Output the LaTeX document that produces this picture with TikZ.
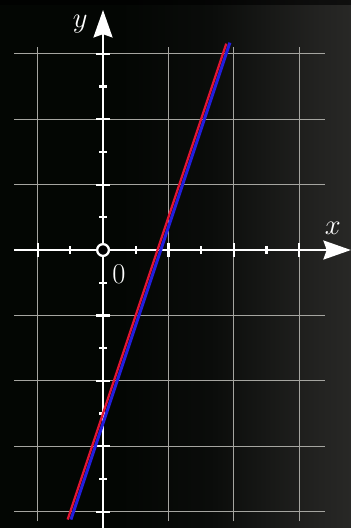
\documentclass[tikz,border=0pt]{standalone}
\usepackage{tikz}
\usetikzlibrary{arrows.meta}
\definecolor{bgdark}{RGB}{3,6,3}
\definecolor{bgmid}{RGB}{10,12,10}
\definecolor{bglight}{RGB}{40,40,38}
\definecolor{gridgray}{RGB}{165,165,160}
\definecolor{linered}{RGB}{225,20,50}
\definecolor{lineblue}{RGB}{35,30,220}
% the path is mapped onto 25bp--75bp of the shading
\pgfdeclarehorizontalshading{bgfade}{100bp}{color(0bp)=(bgdark); color(42bp)=(bgdark); color(55bp)=(bgmid); color(70bp)=(bglight!85!black); color(75bp)=(bglight); color(100bp)=(bglight)}

\begin{document}
\begin{tikzpicture}[
  axis/.style={white, line width=2.1pt, -{Stealth[length=0.84cm, width=0.58cm, inset=0.1cm]}},
  gridline/.style={gridgray, line width=0.8pt},
  tickmark/.style={white, line width=1.9pt},
  axislabel/.style={white, font=\fontsize{25}{29}\selectfont}
]
  \useasboundingbox (-3.15,-8.5) rectangle (7.58,7.645);

  % background
  \shade[shading=bgfade] (-3.15,-8.5) rectangle (7.58,7.645);
  \fill[black, opacity=0.6] (-3.15,7.495) rectangle (7.58,7.645);

  % grid
  \foreach \x in {-2,2,4,6}
    \draw[gridline] (\x,-8.3) -- (\x,6.2);
  \foreach \y in {-8,-6,-4,-2,2,4,6}
    \draw[gridline] (-2.72,\y) -- (6.8,\y);

  % axes
  \coordinate (xfrom) at (-2.72,0);
  \coordinate (xto) at (7.58,0);
  \coordinate (yfrom) at (0,-8.5);
  \coordinate (yto) at (0,7.34);
  \draw[axis] (xfrom) -- (xto);
  \draw[axis] (yfrom) -- (yto);

  % ticks
  \foreach \x in {-2,2,4,6}
    \draw[tickmark] (\x,-0.2) -- (\x,0.2);
  \foreach \x in {-1,1,3,5}
    \draw[tickmark] (\x,-0.11) -- (\x,0.11);
  \foreach \y in {-8,-6,-4,-2,2,4,6}
    \draw[tickmark] (-0.2,\y) -- (0.2,\y);
  \foreach \y in {-7,-5,-3,-1,1,3,5}
    \draw[tickmark] (-0.11,\y) -- (0.11,\y);

  % the two lines
  \coordinate (bluelow) at (-0.98,-8.24);
  \coordinate (bluehigh) at (3.88,6.34);
  \coordinate (redlow) at (-1.08,-8.24);
  \coordinate (redhigh) at (3.77,6.31);
  \draw[lineblue, line width=2.6pt] (bluelow) -- (bluehigh);
  \draw[linered, line width=2pt] (redlow) -- (redhigh);

  % origin
  \node[circle, draw=white, fill=black, line width=2pt, minimum size=0.36cm, inner sep=0pt] (origin) at (0,0) {};

  % labels
  \node[axislabel] (ylabel) at (-0.70,6.91) {$y$};
  \node[axislabel] (xlabel) at (7.03,0.67) {$x$};
  \node[axislabel] (zero) at (0.49,-0.73) {$0$};
\end{tikzpicture}
\end{document}
